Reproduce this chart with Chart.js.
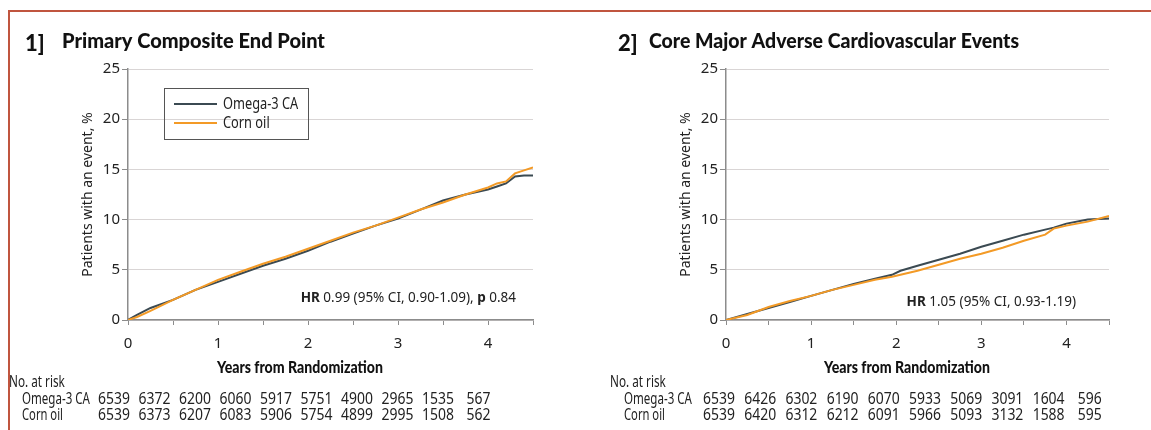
<!DOCTYPE html>
<html>
<head>
<meta charset="utf-8">
<script src="https://cdn.jsdelivr.net/npm/chart.js@4"></script>
<style>
  body { margin: 0; background: #fff; width: 1151px; height: 430px; overflow: hidden; position: relative; }
  #frame { position: absolute; left: 8px; top: 10px; right: 0; bottom: 0; border-top: 2px solid #c0553f; border-left: 2px solid #c0553f; }
  .panel { position: absolute; top: 0; height: 430px; }
</style>
</head>
<body>
<div id="frame"></div>
<div class="panel" style="left:0;width:575px"><canvas id="c1"></canvas></div>
<div class="panel" style="left:575px;width:576px"><canvas id="c2"></canvas></div>

<script>
// series names
const seriesNames = ["Omega-3 CA", "Corn oil"];

// panel 1: primary composite end point (years, cumulative %)
const years1 = [0, 0.1, 0.25, 0.5, 0.75, 1, 1.25, 1.5, 1.75, 2, 2.25, 2.5, 2.75, 3, 3.25, 3.5, 3.75, 4, 4.1, 4.2, 4.3, 4.4, 4.5];
const omega1 = [0, 0.5, 1.2, 2.0, 3.0, 3.8, 4.6, 5.4, 6.1, 6.9, 7.8, 8.6, 9.4, 10.1, 11.0, 11.9, 12.5, 13.0, 13.3, 13.6, 14.3, 14.4, 14.4];
const corn1  = [0, 0.3, 0.9, 2.0, 3.0, 4.0, 4.8, 5.6, 6.3, 7.1, 7.9, 8.7, 9.4, 10.2, 11.0, 11.7, 12.5, 13.2, 13.6, 13.8, 14.6, 14.9, 15.2];

// panel 2: core MACE
const years2 = [0, 0.25, 0.5, 0.75, 1, 1.25, 1.5, 1.75, 1.95, 2.05, 2.25, 2.5, 2.75, 3, 3.25, 3.5, 3.75, 3.85, 4, 4.25, 4.5];
const omega2 = [0, 0.6, 1.2, 1.8, 2.4, 3.0, 3.6, 4.1, 4.5, 4.9, 5.4, 6.0, 6.6, 7.3, 7.9, 8.5, 9.0, 9.2, 9.6, 10.0, 10.1];
const corn2  = [0, 0.5, 1.3, 1.9, 2.4, 3.0, 3.5, 4.0, 4.3, 4.5, 4.9, 5.5, 6.1, 6.6, 7.2, 7.9, 8.5, 9.1, 9.4, 9.8, 10.35];

// numbers at risk
const riskOmega1 = [6539, 6372, 6200, 6060, 5917, 5751, 4900, 2965, 1535, 567];
const riskCorn1  = [6539, 6373, 6207, 6083, 5906, 5754, 4899, 2995, 1508, 562];
const riskOmega2 = [6539, 6426, 6302, 6190, 6070, 5933, 5069, 3091, 1604, 596];
const riskCorn2  = [6539, 6420, 6312, 6212, 6091, 5966, 5093, 3132, 1588, 595];

// axis ranges
const yTickStep = 5, yMax = 25;
const xTickStep = 0.5, xMax = 4.5;

const darkColor = "#3b4a52";
const orangeColor = "#f39a26";
const axisColor = "#8c8c8c";

function pts(xs, ys) {
    return xs.map((x, i) => ({ x: x, y: ys[i] }));
}

// text squeezed horizontally, to mimic the condensed face of the original
function narrowText(ctx, text, x, y, sx) {
    ctx.save();
    ctx.translate(x, y);
    ctx.scale(sx, 1);
    ctx.fillText(text, 0, 0);
    ctx.restore();
}

// draws titles, legend, HR note, x title and the risk table
const panelDecor = {
    id: "panelDecor",
    afterDraw(chart, args, o) {
        const ctx = chart.ctx;
        const a = chart.chartArea;
        ctx.save();
        ctx.fillStyle = "#111";
        ctx.textBaseline = "middle";
        ctx.textAlign = "left";

        // title
        ctx.font = "900 22px Lato";
        ctx.fillText(o.num, o.numX, 44);
        ctx.font = "900 20px Lato";
        ctx.fillText(o.title, o.titleX, 42, o.titleW);

        // legend box
        if (o.legend) {
            const lx = a.left + 36, ly = a.top + 19;
            ctx.strokeStyle = "#555";
            ctx.lineWidth = 1;
            ctx.strokeRect(lx + 0.5, ly + 0.5, 144, 51);
            chart.data.datasets.forEach((ds, i) => {
                const yy = ly + 16 + i * 19;
                ctx.strokeStyle = ds.borderColor;
                ctx.lineWidth = 2;
                ctx.beginPath();
                ctx.moveTo(lx + 10, yy);
                ctx.lineTo(lx + 53, yy);
                ctx.stroke();
                ctx.fillStyle = "#222";
                ctx.font = "16px 'Noto Sans'";
                narrowText(ctx, ds.label, lx + 59, yy, 0.8);
            });
        }

        // hazard ratio note
        ctx.textAlign = "right";
        let x = a.right - o.hrRight;
        const parts = o.hrParts;
        for (let i = parts.length - 1; i >= 0; i--) {
            ctx.font = (parts[i][1] ? "bold " : "") + "13.5px 'Noto Sans'";
            ctx.fillStyle = "#222";
            ctx.fillText(parts[i][0], x, a.bottom - o.hrUp);
            x -= ctx.measureText(parts[i][0]).width;
        }

        // x axis title
        ctx.textAlign = "center";
        ctx.fillStyle = "#111";
        ctx.font = "900 16px Lato";
        ctx.fillText("Years from Randomization", a.left + o.xTitleOff, 368, 166);

        // risk table
        ctx.font = "17px 'Noto Sans'";
        ctx.textAlign = "left";
        ctx.fillStyle = "#222";
        narrowText(ctx, "No. at risk", o.riskHeadX, 382, 0.69);
        narrowText(ctx, seriesNames[0], o.riskLabelX, 399, 0.68);
        narrowText(ctx, seriesNames[1], o.riskLabelX, 415, 0.66);
        ctx.textAlign = "center";
        o.risk[0].forEach((v, i) => narrowText(ctx, String(v), a.left + o.riskStart + i * o.riskGap, 399, 0.82));
        o.risk[1].forEach((v, i) => narrowText(ctx, String(v), a.left + o.riskStart + i * o.riskGap, 415, 0.82));
        ctx.restore();
    }
};

function makeChart(id, years, omega, corn, deco, padLeft) {
    return new Chart(document.getElementById(id), {
        type: "line",
        data: {
            datasets: [
                { label: seriesNames[0], data: pts(years, omega), borderColor: darkColor, borderWidth: 2, pointRadius: 0, tension: 0, order: 1 },
                { label: seriesNames[1], data: pts(years, corn), borderColor: orangeColor, borderWidth: 2, pointRadius: 0, tension: 0, order: 0 }
            ]
        },
        options: {
            responsive: true,
            maintainAspectRatio: false,
            animation: false,
            layout: { padding: { left: padLeft, top: 69, right: 42, bottom: 0 } },
            plugins: {
                legend: { display: false },
                tooltip: { enabled: false },
                panelDecor: deco
            },
            scales: {
                x: {
                    type: "linear",
                    min: 0,
                    max: xMax,
                    afterFit: s => { s.height = 110; },
                    ticks: {
                        stepSize: xTickStep,
                        autoSkip: false,
                        maxRotation: 0,
                        padding: 10,
                        color: "#222",
                        font: { family: "Noto Sans", size: 15 },
                        callback: v => Number.isInteger(v) ? v : ""
                    },
                    grid: { drawOnChartArea: false, tickLength: 5, tickColor: axisColor },
                    border: { color: axisColor, width: 1.5 }
                },
                y: {
                    min: 0,
                    max: yMax,
                    afterFit: s => { s.width = 48; },
                    ticks: {
                        stepSize: yTickStep,
                        padding: 2,
                        color: "#222",
                        font: { family: "Noto Sans", size: 15 }
                    },
                    grid: { color: "#d9d5d5", tickLength: 6, tickColor: axisColor },
                    border: { color: axisColor, width: 1.5 },
                    title: {
                        display: true,
                        text: "Patients with an event, %",
                        color: "#222",
                        font: { family: "Noto Sans", size: 14 },
                        padding: { top: 0, bottom: 4 }
                    }
                }
            }
        },
        plugins: [panelDecor]
    });
}

makeChart("c1", years1, omega1, corn1, {
    num: "1]", numX: 25, title: "Primary Composite End Point", titleX: 62, titleW: 266,
    legend: true,
    hrParts: [["HR", true], [" 0.99 (95% CI, 0.90-1.09), ", false], ["p", true], [" 0.84", false]],
    hrRight: 17, hrUp: 22,
    xTitleOff: 172,
    riskHeadX: 9, riskLabelX: 22, riskStart: -14, riskGap: 40.5,
    risk: [riskOmega1, riskCorn1]
}, 80);

makeChart("c2", years2, omega2, corn2, {
    num: "2]", numX: 43, title: "Core Major Adverse Cardiovascular Events", titleX: 74, titleW: 370,
    legend: false,
    hrParts: [["HR", true], [" 1.05 (95% CI, 0.93-1.19)", false]],
    hrRight: 33, hrUp: 18,
    xTitleOff: 181,
    riskHeadX: 35, riskLabelX: 49, riskStart: -7, riskGap: 41.2,
    risk: [riskOmega2, riskCorn2]
}, 103);
</script>
</body>
</html>
